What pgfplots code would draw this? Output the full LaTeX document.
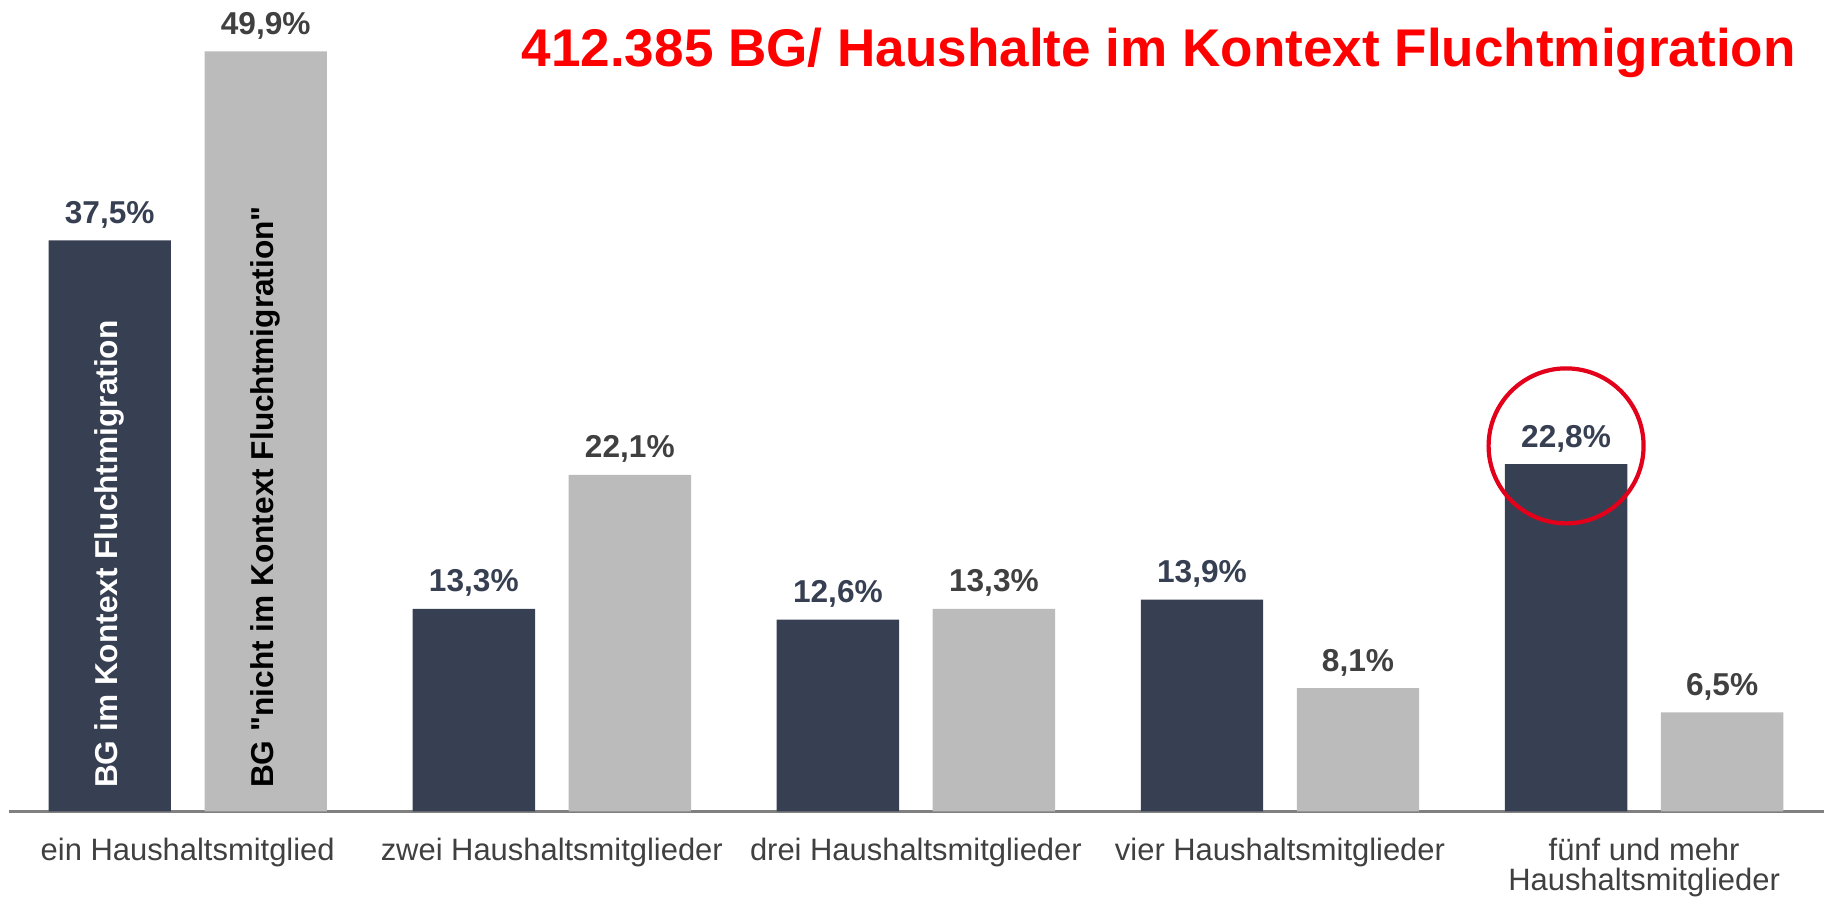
\documentclass[border=0pt]{standalone}
\usepackage{fontspec}
\setmainfont{Liberation Sans}[Ligatures=TeXOff]
\usepackage{pgfplots}
\pgfplotsset{compat=1.18}

\definecolor{navy}{RGB}{55,63,82}
\definecolor{lgray}{RGB}{187,187,187}
\definecolor{dgray}{RGB}{64,64,64}
\definecolor{ringred}{RGB}{227,0,27}

\begin{document}
\begin{tikzpicture}
\path[use as bounding box] (0,0) rectangle (18.28cm,9.02cm);
\begin{axis}[
  at={(0.093cm,0.906cm)}, anchor=south west,
  width=18.15cm, height=7.92cm, scale only axis,
  xmin=-0.49, xmax=4.495, ymin=0, ymax=52,
  axis x line*=bottom, axis y line=none,
  x axis line style={draw=gray, line width=0.9pt, -},
  xtick={0,1,2,3,4},
  xticklabels={ein Haushaltsmitglied, zwei Haushaltsmitglieder,
               drei Haushaltsmitglieder, vier Haushaltsmitglieder,
               {fünf und mehr\\Haushaltsmitglieder}},
  major tick length=0pt, xtick style={draw=none},
  xticklabel style={font=\fontsize{8.8}{8.6}\selectfont, text=dgray,
                    align=center, inner sep=0pt, anchor=north, yshift=-0.26cm},
  ybar, bar width=1.224cm,
  /pgf/number format/assume math mode=true,
  nodes near coords={\pgfmathprintnumber[fixed,fixed zerofill,precision=1,use comma]{\pgfplotspointmeta}\%},
  every node near coord/.append style={font=\bfseries\fontsize{9}{10}\selectfont,
                                       anchor=base, yshift=0.17cm, inner sep=0pt},
  clip=false,
]

% BG im Kontext Fluchtmigration
\addplot[fill=navy, draw=none, bar shift=-0.78cm,
         every node near coord/.append style={text=navy}]
  coordinates {(0,37.5) (1,13.3) (2,12.6) (3,13.9) (4,22.8)};

% BG "nicht im Kontext Fluchtmigration"
\addplot[fill=lgray, draw=none, bar shift=0.78cm,
         every node near coord/.append style={text=dgray}]
  coordinates {(0,49.9) (1,22.1) (2,13.3) (3,8.1) (4,6.5)};

% series names written into the first pair of bars
\node[rotate=90, anchor=west, inner sep=0pt, text=white,
      font=\bfseries\fontsize{9}{10}\selectfont]
  at (axis cs:-0.2142,1.5) {BG im Kontext Fluchtmigration};
\node[rotate=90, anchor=west, inner sep=0pt, text=black,
      font=\bfseries\fontsize{9}{10}\selectfont]
  at (axis cs:0.2142,1.5) {BG \symbol{34}nicht im Kontext Fluchtmigration\symbol{34}};

% highlight
\draw[ringred, line width=1.2pt] (axis cs:-0.2142+4,24.0) circle[radius=0.775cm];
\end{axis}

\node[anchor=base west, inner sep=0pt, text=red,
      font=\bfseries\fontsize{15.1}{18}\selectfont]
  at (5.21cm,8.355cm) {412.385 BG/ Haushalte im Kontext Fluchtmigration};
\end{tikzpicture}
\end{document}
